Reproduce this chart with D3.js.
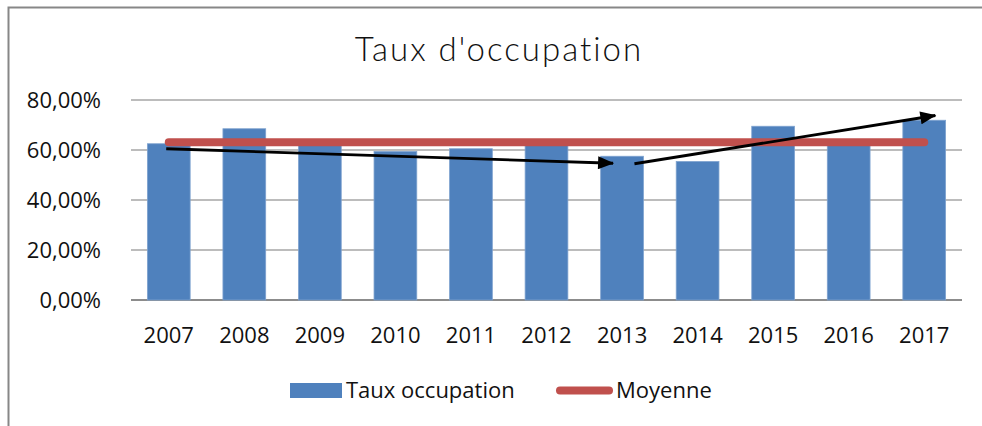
<!DOCTYPE html>
<html>
<head>
<meta charset="utf-8">
<script src="https://cdn.jsdelivr.net/npm/d3@7"></script>
<style>
  body { margin: 0; background: #fff; }
  svg { display: block; }
</style>
</head>
<body>
<div id="chart"></div>
<script>
// data
const annees = ["2007", "2008", "2009", "2010", "2011", "2012", "2013", "2014", "2015", "2016", "2017"]
const tauxOccupation = [0.625, 0.685, 0.625, 0.594, 0.605, 0.625, 0.575, 0.554, 0.695, 0.62, 0.719]
const moyenne = 0.631
const yTicks = [0, 0.2, 0.4, 0.6, 0.8]
// annotation arrows: [year, fraction of bar width, value]
const flecheDebut = [["2007", 0.44, 0.605], ["2013", 0.79, 0.545]]
const flecheFin = [["2013", 0.29, 0.547], ["2017", 0.76, 0.738]]

const width = 982
const height = 426
const bleu = "#4f81bd"
const rouge = "#c0504d"
const labelFont = "'Open Sans', sans-serif"

const svg = d3.select("#chart")
.append("svg")
.attr("width", width)
.attr("height", height)

// frame (only top and left visible)
svg.append("path")
.attr("d", `M8.5,${height} V7.5 H${width}`)
.attr("fill", "none")
.attr("stroke", "#878787")
.attr("stroke-width", 2)

svg.append("text")
.attr("x", 499)
.attr("y", 61)
.attr("text-anchor", "middle")
.style("font-family", "Lato, sans-serif")
.style("font-weight", 300)
.style("font-size", "33px")
.style("letter-spacing", "2px")
.style("fill", "#111")
.text("Taux d'occupation")

const x = d3.scaleBand()
.domain(annees)
.range([131, 962])
.paddingInner(0.434)
.paddingOuter(0.217)

const y = d3.scaleLinear()
.domain([0, 0.8])
.range([300, 100])

const fmt = v => d3.format(".2f")(v * 100).replace(".", ",") + "%"

// gridlines
svg.append("g")
.selectAll("line")
.data(yTicks)
.enter()
.append("line")
.attr("x1", 131)
.attr("x2", 962)
.attr("y1", d => y(d))
.attr("y2", d => y(d))
.attr("stroke", d => d === 0 ? "#8c8c8c" : "#a6a6a6")
.attr("stroke-width", d => d === 0 ? 2 : 1.6)

// y labels
const yAxis = svg.append("g")
.attr("transform", "translate(101,0)")
.call(d3.axisLeft(y).tickValues(yTicks).tickFormat(fmt).tickSize(0).tickPadding(0))
yAxis.select(".domain").remove()
yAxis.selectAll("text")
.style("font-family", labelFont)
.style("font-size", "22px")
.style("fill", "#111")

// x labels
const xAxis = svg.append("g")
.attr("transform", "translate(0,300)")
.call(d3.axisBottom(x).tickSize(0).tickPadding(27))
xAxis.select(".domain").remove()
xAxis.selectAll("text")
.style("font-family", labelFont)
.style("font-size", "22px")
.style("fill", "#111")

// bars
svg.append("g")
.selectAll("rect")
.data(annees)
.enter()
.append("rect")
.attr("x", d => x(d))
.attr("width", x.bandwidth())
.attr("y", (d, i) => y(tauxOccupation[i]))
.attr("height", (d, i) => y(0) - y(tauxOccupation[i]))
.attr("fill", bleu)
.attr("stroke", "#7ea2cf")
.attr("stroke-width", 0.8)

// average line
svg.append("line")
.attr("x1", x(annees[0]) + x.bandwidth() / 2)
.attr("x2", x(annees[annees.length - 1]) + x.bandwidth() / 2)
.attr("y1", y(moyenne))
.attr("y2", y(moyenne))
.attr("stroke", rouge)
.attr("stroke-width", 8)
.attr("stroke-linecap", "round")

// arrows
svg.append("defs")
.append("marker")
.attr("id", "tete")
.attr("markerUnits", "userSpaceOnUse")
.attr("viewBox", "0 0 16 13")
.attr("markerWidth", 17)
.attr("markerHeight", 13)
.attr("refX", 15)
.attr("refY", 6.5)
.attr("orient", "auto")
.append("path")
.attr("d", "M0,0 L16,6.5 L0,13 Z")
.attr("fill", "#000")

const px = p => x(p[0]) + p[1] * x.bandwidth()

svg.append("g")
.selectAll("line")
.data(flecheDebut)
.enter()
.append("line")
.attr("x1", d => px(d))
.attr("y1", d => y(d[2]))
.attr("x2", (d, i) => px(flecheFin[i]))
.attr("y2", (d, i) => y(flecheFin[i][2]))
.attr("stroke", "#000")
.attr("stroke-width", 2.8)
.attr("marker-end", "url(#tete)")

// legend
const legend = svg.append("g")
legend.append("rect")
.attr("x", 290)
.attr("y", 383)
.attr("width", 52)
.attr("height", 15)
.attr("fill", bleu)
legend.append("text")
.attr("x", 346)
.attr("y", 398)
.style("font-family", labelFont)
.style("font-size", "22px")
.style("fill", "#111")
.text("Taux occupation")
legend.append("line")
.attr("x1", 560)
.attr("x2", 609)
.attr("y1", 390.5)
.attr("y2", 390.5)
.attr("stroke", rouge)
.attr("stroke-width", 8)
.attr("stroke-linecap", "round")
legend.append("text")
.attr("x", 616)
.attr("y", 398)
.style("font-family", labelFont)
.style("font-size", "22px")
.style("fill", "#111")
.text("Moyenne")
</script>
</body>
</html>
